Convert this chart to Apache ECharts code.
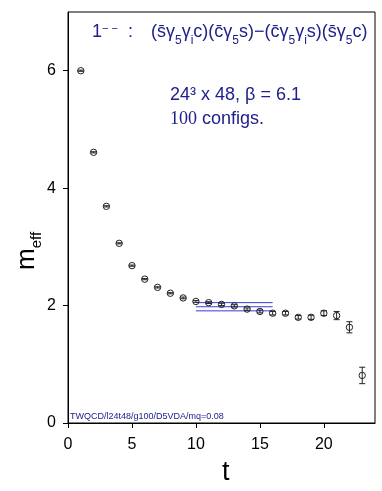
<!DOCTYPE html>
<html>
<head>
<meta charset="utf-8">
<script src="https://cdn.jsdelivr.net/npm/echarts@6/dist/echarts.min.js"></script>
<style>
  html, body { margin: 0; padding: 0; background: #fff; }
  #main { width: 382px; height: 491px; }
</style>
</head>
<body>
<div id="main"></div>
<script>
// effective mass data
var tValues = [1, 2, 3, 4, 5, 6, 7, 8, 9, 10, 11, 12, 13, 14, 15, 16, 17, 18, 19, 20, 21, 22, 23];
var meffValues = [6.0, 4.61, 3.69, 3.06, 2.68, 2.45, 2.31, 2.21, 2.13, 2.07, 2.05, 2.02, 1.995, 1.94, 1.90, 1.87, 1.87, 1.80, 1.80, 1.87, 1.83, 1.63, 0.81];
var meffErrors = [0.01, 0.01, 0.01, 0.01, 0.01, 0.01, 0.01, 0.01, 0.015, 0.015, 0.015, 0.02, 0.02, 0.02, 0.025, 0.03, 0.03, 0.03, 0.035, 0.04, 0.07, 0.095, 0.14];

// plateau fit
var fitRange = [10, 16];
var fitValue = 1.98;
var fitError = 0.07;

var xTicks = [0, 5, 10, 15, 20];
var yTicks = [0, 2, 4, 6];

var navy = '#20208c';
var fitBlue = '#3a3ae0';

var myChart = echarts.init(document.getElementById('main'));

var points = tValues.map(function (t, i) {
  return [t, meffValues[i], meffErrors[i]];
});

function fitLine(v) {
  return {
    type: 'line',
    data: [[fitRange[0], v], [fitRange[1], v]],
    symbol: 'none',
    silent: true,
    lineStyle: { color: fitBlue, width: 1 },
    z: 3
  };
}

// operator text: n = normal, b = subscript
var ops = '{n|(s\u0304\u03B3}{b|5}{n|\u03B3}{b|i}{n|c)(c\u0304\u03B3}{b|5}{n|s)\u2212(c\u0304\u03B3}{b|5}{n|\u03B3}{b|i}{n|s)(s\u0304\u03B3}{b|5}{n|c)}';
var titleRich = {
  n: { fontSize: 18, fontFamily: 'Liberation Sans', lineHeight: 24, verticalAlign: 'top', fill: navy },
  b: { fontSize: 12, fontFamily: 'Liberation Sans', lineHeight: 12, verticalAlign: 'bottom', fill: navy },
  p: { fontSize: 11, fontFamily: 'Liberation Sans', lineHeight: 11, verticalAlign: 'top', fill: navy }
};

var option = {
  animation: false,
  grid: {
    left: 68, top: 12, right: 7, bottom: 68,
    show: true, borderColor: '#000', borderWidth: 1, backgroundColor: 'transparent'
  },
  xAxis: {
    type: 'value', min: 0, max: 24, interval: 5,
    axisLine: { show: true, lineStyle: { color: '#000' } },
    axisTick: { show: true, length: 5, lineStyle: { color: '#000' } },
    axisLabel: {
      color: '#000', fontSize: 16, fontFamily: 'Liberation Sans', margin: 14,
      showMaxLabel: false,
      formatter: function (v) { return xTicks.indexOf(v) >= 0 ? v : ''; }
    },
    splitLine: { show: false }
  },
  yAxis: {
    type: 'value', min: 0, max: 7, interval: 2,
    axisLine: { show: true, lineStyle: { color: '#000' } },
    axisTick: { show: true, length: 5, lineStyle: { color: '#000' } },
    axisLabel: {
      color: '#000', fontSize: 16, fontFamily: 'Liberation Sans', margin: 12,
      showMaxLabel: false,
      formatter: function (v) { return yTicks.indexOf(v) >= 0 ? v : ''; }
    },
    splitLine: { show: false }
  },
  graphic: [
    {
      type: 'text', left: 92, top: 23,
      style: { text: '{n|1}{p|\u2212 \u2212}{n|  :}', rich: titleRich }
    },
    {
      type: 'text', left: 151, top: 23,
      style: { text: ops, rich: titleRich }
    },
    {
      type: 'text', left: 170, top: 86,
      style: { text: '24\u00B3 x 48, \u03B2 = 6.1', fontSize: 18, fontFamily: 'Liberation Sans', fill: navy }
    },
    {
      type: 'text', left: 170, top: 110,
      style: {
        text: '{a|100} configs.',
        fontSize: 18, fontFamily: 'Liberation Sans', fill: navy,
        rich: { a: { fontSize: 18, fontFamily: 'Liberation Serif', fill: navy } }
      }
    },
    {
      type: 'text', left: 70, top: 412,
      style: { text: 'TWQCD/l24t48/g100/D5VDA/mq=0.08', fontSize: 9, fontFamily: 'Liberation Sans', fill: navy }
    },
    {
      type: 'text', x: 14, y: 270, rotation: Math.PI / 2,
      style: {
        text: '{m|m}{s|eff}',
        fill: '#000',
        rich: {
          m: { fontSize: 26, fontFamily: 'Liberation Sans', verticalAlign: 'top', lineHeight: 26 },
          s: { fontSize: 15, fontFamily: 'Liberation Sans', verticalAlign: 'bottom', lineHeight: 15, padding: [0, 0, -4, 0] }
        }
      }
    },
    {
      type: 'text', left: 222, top: 459,
      style: { text: 't', fontSize: 27, fontFamily: 'Liberation Sans', fill: '#000' }
    }
  ],
  series: [
    fitLine(fitValue + fitError),
    fitLine(fitValue),
    fitLine(fitValue - fitError),
    {
      type: 'custom',
      data: points,
      z: 4,
      renderItem: function (params, api) {
        var c = api.coord([api.value(0), api.value(1)]);
        var hi = api.coord([api.value(0), api.value(1) + api.value(2)]);
        var lo = api.coord([api.value(0), api.value(1) - api.value(2)]);
        var stroke = { stroke: '#222', lineWidth: 1, fill: null };
        return {
          type: 'group',
          children: [
            { type: 'line', shape: { x1: c[0], y1: hi[1], x2: c[0], y2: lo[1] }, style: stroke },
            { type: 'line', shape: { x1: c[0] - 3, y1: hi[1], x2: c[0] + 3, y2: hi[1] }, style: stroke },
            { type: 'line', shape: { x1: c[0] - 3, y1: lo[1], x2: c[0] + 3, y2: lo[1] }, style: stroke },
            { type: 'circle', shape: { cx: c[0], cy: c[1], r: 3.2 }, style: { stroke: '#222', lineWidth: 1, fill: 'none' } }
          ]
        };
      }
    }
  ]
};

myChart.setOption(option);
</script>
</body>
</html>
